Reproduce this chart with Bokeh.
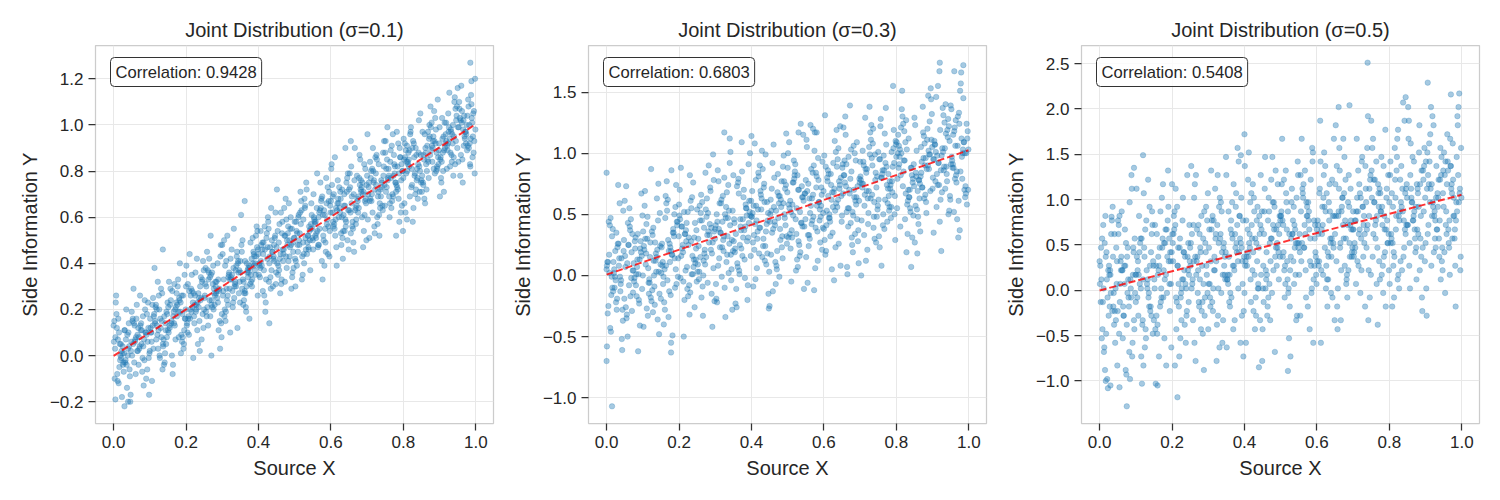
import numpy as np
from bokeh.plotting import figure
from bokeh.layouts import row
from bokeh.models import Range1d, FixedTicker, Label, CustomJSTickFormatter
from bokeh.embed import file_html
from bokeh.resources import INLINE

# Panel labels
sigmas = ["0.1", "0.3", "0.5"]
correlations = ["0.9428", "0.6803", "0.5408"]

# Tick positions
x_ticks = [0.0, 0.2, 0.4, 0.6, 0.8, 1.0]
y_ticks_s01 = [-0.2, 0.0, 0.2, 0.4, 0.6, 0.8, 1.0, 1.2]
y_ticks_s03 = [-1.0, -0.5, 0.0, 0.5, 1.0, 1.5]
y_ticks_s05 = [-1.0, -0.5, 0.0, 0.5, 1.0, 1.5, 2.0, 2.5]

# ---- sigma = 0.1 : source x (thousandths) / side information y (hundredths)
source_x_s01 = [
    17,3,41,29,8,36,22,47,12,0,33,25,44,6,19,38,14,49,27,2,40,10,31,21,46,5,35,16,43,24,9,37,1,28,48,13,32,20,45,7,39,15,26,4,42,11,34,18,30,23,
    67,53,91,79,58,86,72,97,62,50,83,75,94,56,69,88,64,99,77,52,90,60,81,71,96,55,85,66,93,74,59,87,51,78,98,63,82,70,95,57,89,65,76,54,92,61,84,68,80,73,
    117,103,141,129,108,136,122,147,112,100,133,125,144,106,119,138,114,149,127,102,140,110,131,121,146,105,135,116,143,124,109,137,101,128,148,113,132,120,145,107,139,115,126,104,142,111,134,118,130,123,
    167,153,191,179,158,186,172,197,162,150,183,175,194,156,169,188,164,199,177,152,190,160,181,171,196,155,185,166,193,174,159,187,151,178,198,163,182,170,195,157,189,165,176,154,192,161,184,168,180,173,
    217,203,241,229,208,236,222,247,212,200,233,225,244,206,219,238,214,249,227,202,240,210,231,221,246,205,235,216,243,224,209,237,201,228,248,213,232,220,245,207,239,215,226,204,242,211,234,218,230,223,
    267,253,291,279,258,286,272,297,262,250,283,275,294,256,269,288,264,299,277,252,290,260,281,271,296,255,285,266,293,274,259,287,251,278,298,263,282,270,295,257,289,265,276,254,292,261,284,268,280,273,
    317,303,341,329,308,336,322,347,312,300,333,325,344,306,319,338,314,349,327,302,340,310,331,321,346,305,335,316,343,324,309,337,301,328,348,313,332,320,345,307,339,315,326,304,342,311,334,318,330,323,
    367,353,391,379,358,386,372,397,362,350,383,375,394,356,369,388,364,399,377,352,390,360,381,371,396,355,385,366,393,374,359,387,351,378,398,363,382,370,395,357,389,365,376,354,392,361,384,368,380,373,
    417,403,441,429,408,436,422,447,412,400,433,425,444,406,419,438,414,449,427,402,440,410,431,421,446,405,435,416,443,424,409,437,401,428,448,413,432,420,445,407,439,415,426,404,442,411,434,418,430,423,
    467,453,491,479,458,486,472,497,462,450,483,475,494,456,469,488,464,499,477,452,490,460,481,471,496,455,485,466,493,474,459,487,451,478,498,463,482,470,495,457,489,465,476,454,492,461,484,468,480,473,
    517,503,541,529,508,536,522,547,512,500,533,525,544,506,519,538,514,549,527,502,540,510,531,521,546,505,535,516,543,524,509,537,501,528,548,513,532,520,545,507,539,515,526,504,542,511,534,518,530,523,
    567,553,591,579,558,586,572,597,562,550,583,575,594,556,569,588,564,599,577,552,590,560,581,571,596,555,585,566,593,574,559,587,551,578,598,563,582,570,595,557,589,565,576,554,592,561,584,568,580,573,
    617,603,641,629,608,636,622,647,612,600,633,625,644,606,619,638,614,649,627,602,640,610,631,621,646,605,635,616,643,624,609,637,601,628,648,613,632,620,645,607,639,615,626,604,642,611,634,618,630,623,
    667,653,691,679,658,686,672,697,662,650,683,675,694,656,669,688,664,699,677,652,690,660,681,671,696,655,685,666,693,674,659,687,651,678,698,663,682,670,695,657,689,665,676,654,692,661,684,668,680,673,
    717,703,741,729,708,736,722,747,712,700,733,725,744,706,719,738,714,749,727,702,740,710,731,721,746,705,735,716,743,724,709,737,701,728,748,713,732,720,745,707,739,715,726,704,742,711,734,718,730,723,
    767,753,791,779,758,786,772,797,762,750,783,775,794,756,769,788,764,799,777,752,790,760,781,771,796,755,785,766,793,774,759,787,751,778,798,763,782,770,795,757,789,765,776,754,792,761,784,768,780,773,
    817,803,841,829,808,836,822,847,812,800,833,825,844,806,819,838,814,849,827,802,840,810,831,821,846,805,835,816,843,824,809,837,801,828,848,813,832,820,845,807,839,815,826,804,842,811,834,818,830,823,
    867,853,891,879,858,886,872,897,862,850,883,875,894,856,869,888,864,899,877,852,890,860,881,871,896,855,885,866,893,874,859,887,851,878,898,863,882,870,895,857,889,865,876,854,892,861,884,868,880,873,
    917,903,941,929,908,936,922,947,912,900,933,925,944,906,919,938,914,949,927,902,940,910,931,921,946,905,935,916,943,924,909,937,901,928,948,913,932,920,945,907,939,915,926,904,942,911,934,918,930,923,
    967,953,991,979,958,986,972,997,962,950,983,975,994,956,969,988,964,999,977,952,990,960,981,971,996,955,985,966,993,974,959,987,951,978,998,963,982,970,995,957,989,965,976,954,992,961,984,968,980,973,
    985,988,30,40,5,136,362,430,270,780,810,640,655,
]
side_y_s01 = [
    5,-10,10,1,18,-4,2,-17,7,13,-2,4,-6,23,0,9,-12,6,-3,15,3,-8,11,-1,-20,8,20,-5,4,1,12,-14,6,-7,2,16,-3,5,-9,26,0,10,-4,3,14,-11,7,-2,11,-18,
    2,16,9,-7,13,24,4,-1,8,19,-13,11,6,14,-4,10,22,1,5,15,-10,7,17,3,12,29,-2,9,-6,13,6,20,0,11,-17,16,4,8,23,-3,10,2,14,5,18,-8,7,12,-1,26,
    22,10,-3,16,13,5,32,8,18,2,15,26,11,-11,20,7,14,23,0,12,17,3,29,9,19,6,-6,21,14,11,25,4,16,-1,18,38,8,13,5,22,-4,15,20,10,1,17,27,7,12,3,
    14,32,8,19,24,1,21,16,28,11,40,17,5,22,13,26,-4,20,30,10,18,15,25,7,35,12,23,19,3,27,14,9,21,33,16,-8,24,20,11,29,6,17,22,13,26,0,19,31,8,23,
    28,14,34,22,9,25,17,41,20,30,5,26,32,16,23,2,29,37,19,13,24,44,11,27,18,31,21,35,7,22,28,15,39,20,12,26,23,-1,33,17,30,19,36,10,25,16,27,21,42,14,
    17,31,28,22,45,25,36,14,33,20,27,39,3,30,35,23,42,18,29,26,11,37,32,24,48,19,28,34,15,31,21,40,25,27,8,36,30,22,43,17,33,24,20,38,29,13,32,52,26,21,
    34,28,45,21,39,32,10,37,29,48,25,33,41,17,36,30,52,23,35,26,43,19,38,33,27,50,31,22,40,34,15,37,44,28,32,24,55,29,36,20,39,26,46,33,12,41,30,35,23,42,
    30,48,40,35,22,45,38,54,28,41,33,16,43,50,36,39,27,46,31,61,37,24,42,34,47,29,40,19,52,39,32,44,36,49,26,41,30,37,56,33,43,21,38,45,35,27,51,40,32,36,
    56,39,42,32,48,37,51,62,28,44,34,47,41,54,19,45,49,36,58,40,30,46,43,33,52,38,64,26,48,42,39,50,35,55,31,44,47,23,51,41,45,37,60,34,43,49,29,46,40,53,
    46,54,29,50,57,43,52,38,62,47,41,68,36,49,44,55,33,51,59,40,48,27,53,64,45,39,50,58,34,52,42,47,72,38,51,31,56,46,49,37,60,53,43,35,55,44,66,41,48,32,
    57,41,54,65,48,52,35,61,50,58,72,44,55,39,63,47,53,51,68,30,56,60,46,43,66,54,49,71,37,59,45,52,42,64,55,48,75,33,57,53,46,62,40,58,50,61,44,67,51,49,
    48,60,73,52,58,45,64,54,79,50,61,41,67,57,55,66,47,62,33,70,59,53,63,75,43,58,49,60,56,68,51,77,46,61,65,54,39,63,71,52,57,48,69,59,44,64,55,62,50,67,
    63,74,56,48,70,65,60,79,52,67,42,62,71,58,76,54,64,46,68,83,59,55,72,66,50,69,61,39,75,64,57,70,81,53,63,59,51,68,77,56,65,47,71,62,58,86,54,66,60,73,
    63,73,54,87,69,60,78,66,49,72,76,62,67,82,57,70,45,74,64,79,71,58,85,65,68,53,73,90,61,67,56,75,63,77,50,70,72,59,81,66,47,76,69,62,83,55,71,64,74,68,
    80,70,75,57,84,64,72,93,67,78,61,74,88,51,76,69,81,65,85,59,73,77,71,53,82,75,66,90,63,79,68,72,96,60,74,70,83,56,78,67,76,62,87,73,65,80,52,75,69,86,
    64,81,86,75,77,92,69,80,60,88,73,83,76,99,67,79,84,54,82,71,90,78,74,96,65,85,72,77,62,87,81,68,93,75,80,66,97,70,83,76,58,89,79,73,86,69,82,91,71,78,
    89,66,83,92,79,87,73,105,84,77,70,90,82,62,96,81,88,75,93,85,68,91,78,99,80,86,72,82,102,74,84,76,94,64,87,83,79,97,71,89,77,85,58,92,88,80,90,69,86,81,
    85,97,80,91,68,93,100,83,88,76,95,108,81,87,84,103,72,92,89,78,98,66,90,94,86,74,106,91,82,87,96,79,71,101,89,83,93,77,111,85,92,80,99,75,88,90,81,97,84,95,
    96,86,110,82,94,92,89,104,71,99,87,97,107,84,93,78,101,90,114,85,95,80,98,91,102,75,96,92,83,105,88,100,69,94,108,89,97,81,93,103,86,90,99,77,112,95,84,101,88,92,
    91,99,86,111,102,94,97,79,106,116,92,100,88,103,95,109,75,98,104,84,101,117,90,97,93,107,82,102,105,96,87,113,99,91,120,85,100,94,106,78,103,98,89,110,95,101,83,104,108,92,
    127,119,-22,-20,-19,46,67,14,0,52,59,90,93,
]

# ---- sigma = 0.3
source_x_s03 = [
    49,27,2,40,10,31,21,46,5,35,16,43,24,9,37,1,28,48,13,32,20,45,7,39,15,26,4,42,11,34,18,30,23,17,3,41,29,8,36,22,47,12,0,33,25,44,6,19,38,14,
    99,77,52,90,60,81,71,96,55,85,66,93,74,59,87,51,78,98,63,82,70,95,57,89,65,76,54,92,61,84,68,80,73,67,53,91,79,58,86,72,97,62,50,83,75,94,56,69,88,64,
    149,127,102,140,110,131,121,146,105,135,116,143,124,109,137,101,128,148,113,132,120,145,107,139,115,126,104,142,111,134,118,130,123,117,103,141,129,108,136,122,147,112,100,133,125,144,106,119,138,114,
    199,177,152,190,160,181,171,196,155,185,166,193,174,159,187,151,178,198,163,182,170,195,157,189,165,176,154,192,161,184,168,180,173,167,153,191,179,158,186,172,197,162,150,183,175,194,156,169,188,164,
    249,227,202,240,210,231,221,246,205,235,216,243,224,209,237,201,228,248,213,232,220,245,207,239,215,226,204,242,211,234,218,230,223,217,203,241,229,208,236,222,247,212,200,233,225,244,206,219,238,214,
    299,277,252,290,260,281,271,296,255,285,266,293,274,259,287,251,278,298,263,282,270,295,257,289,265,276,254,292,261,284,268,280,273,267,253,291,279,258,286,272,297,262,250,283,275,294,256,269,288,264,
    349,327,302,340,310,331,321,346,305,335,316,343,324,309,337,301,328,348,313,332,320,345,307,339,315,326,304,342,311,334,318,330,323,317,303,341,329,308,336,322,347,312,300,333,325,344,306,319,338,314,
    399,377,352,390,360,381,371,396,355,385,366,393,374,359,387,351,378,398,363,382,370,395,357,389,365,376,354,392,361,384,368,380,373,367,353,391,379,358,386,372,397,362,350,383,375,394,356,369,388,364,
    449,427,402,440,410,431,421,446,405,435,416,443,424,409,437,401,428,448,413,432,420,445,407,439,415,426,404,442,411,434,418,430,423,417,403,441,429,408,436,422,447,412,400,433,425,444,406,419,438,414,
    499,477,452,490,460,481,471,496,455,485,466,493,474,459,487,451,478,498,463,482,470,495,457,489,465,476,454,492,461,484,468,480,473,467,453,491,479,458,486,472,497,462,450,483,475,494,456,469,488,464,
    549,527,502,540,510,531,521,546,505,535,516,543,524,509,537,501,528,548,513,532,520,545,507,539,515,526,504,542,511,534,518,530,523,517,503,541,529,508,536,522,547,512,500,533,525,544,506,519,538,514,
    599,577,552,590,560,581,571,596,555,585,566,593,574,559,587,551,578,598,563,582,570,595,557,589,565,576,554,592,561,584,568,580,573,567,553,591,579,558,586,572,597,562,550,583,575,594,556,569,588,564,
    649,627,602,640,610,631,621,646,605,635,616,643,624,609,637,601,628,648,613,632,620,645,607,639,615,626,604,642,611,634,618,630,623,617,603,641,629,608,636,622,647,612,600,633,625,644,606,619,638,614,
    699,677,652,690,660,681,671,696,655,685,666,693,674,659,687,651,678,698,663,682,670,695,657,689,665,676,654,692,661,684,668,680,673,667,653,691,679,658,686,672,697,662,650,683,675,694,656,669,688,664,
    749,727,702,740,710,731,721,746,705,735,716,743,724,709,737,701,728,748,713,732,720,745,707,739,715,726,704,742,711,734,718,730,723,717,703,741,729,708,736,722,747,712,700,733,725,744,706,719,738,714,
    799,777,752,790,760,781,771,796,755,785,766,793,774,759,787,751,778,798,763,782,770,795,757,789,765,776,754,792,761,784,768,780,773,767,753,791,779,758,786,772,797,762,750,783,775,794,756,769,788,764,
    849,827,802,840,810,831,821,846,805,835,816,843,824,809,837,801,828,848,813,832,820,845,807,839,815,826,804,842,811,834,818,830,823,817,803,841,829,808,836,822,847,812,800,833,825,844,806,819,838,814,
    899,877,852,890,860,881,871,896,855,885,866,893,874,859,887,851,878,898,863,882,870,895,857,889,865,876,854,892,861,884,868,880,873,867,853,891,879,858,886,872,897,862,850,883,875,894,856,869,888,864,
    949,927,902,940,910,931,921,946,905,935,916,943,924,909,937,901,928,948,913,932,920,945,907,939,915,926,904,942,911,934,918,930,923,917,903,941,929,908,936,922,947,912,900,933,925,944,906,919,938,914,
    999,977,952,990,960,981,971,996,955,985,966,993,974,959,987,951,978,998,963,982,970,995,957,989,965,976,954,992,961,984,968,980,973,967,953,991,979,958,986,972,997,962,950,983,975,994,956,969,988,964,
    15,0,1,0,178,178,325,340,400,530,570,580,920,985,960,
]
side_y_s03 = [
    -19,35,11,-4,-43,26,5,53,-25,14,-10,-61,20,41,-1,8,-28,29,-16,74,2,-37,17,-7,32,-22,11,-52,47,8,-13,23,-1,38,-31,14,-19,2,59,-10,20,-46,5,26,-4,-28,44,11,-13,-1,
    49,-2,7,-23,25,-8,34,67,-35,13,-17,22,4,43,-62,16,28,-11,55,1,-29,19,10,-20,37,-5,73,-41,25,7,-2,31,-14,46,-26,13,22,-50,34,4,16,-8,61,-17,10,28,-32,19,1,40,
    9,33,-42,21,42,0,27,-15,57,12,-6,75,-21,18,3,36,-30,24,48,-9,15,-48,30,63,6,-12,21,45,-27,27,-3,12,87,-15,24,-36,39,9,18,-18,51,30,0,-24,36,3,69,-6,15,-33,
    32,-16,23,56,5,17,-34,44,11,35,77,-7,26,-22,50,2,20,14,65,-49,29,41,-1,-10,59,23,8,74,-28,38,-4,17,-13,53,26,5,86,-40,32,20,-1,47,-19,35,11,44,-7,62,14,8,
    -5,31,70,7,25,-14,43,13,88,1,34,-26,52,22,16,49,-8,37,-50,61,28,10,40,76,-20,25,-2,31,19,55,4,82,-11,34,46,13,-32,40,64,7,22,-5,58,28,-17,43,16,37,1,52,
    30,63,9,-15,51,36,21,78,-3,42,-33,27,54,15,69,3,33,-21,45,90,18,6,57,39,-9,48,24,-42,66,33,12,51,84,0,30,18,-6,45,72,9,36,-18,54,27,15,99,3,39,21,60,
    20,50,-7,92,38,11,65,29,-22,47,59,17,32,77,2,41,-34,53,23,68,44,5,86,26,35,-10,50,101,14,32,-1,56,20,62,-19,41,47,8,74,29,-28,59,38,17,80,-4,44,23,53,35,
    61,31,46,-8,73,13,37,100,22,55,4,43,85,-26,49,28,64,16,76,-2,40,52,34,-20,67,46,19,91,10,58,25,37,109,1,43,31,70,-11,55,22,49,7,82,40,16,61,-23,46,28,79,
    3,54,69,36,42,87,18,51,-9,75,30,60,39,108,12,48,63,-27,57,24,81,45,33,99,6,66,27,42,-3,72,54,15,90,36,51,9,102,21,60,39,-15,78,48,30,69,18,57,84,24,45,
    68,-1,50,77,38,62,20,116,53,32,11,71,47,-13,89,44,65,26,80,56,5,74,35,98,41,59,17,47,107,23,53,29,83,-7,62,50,38,92,14,68,32,56,-25,77,65,41,71,8,59,44,
    46,82,31,64,-5,70,91,40,55,19,76,115,34,52,43,100,7,67,58,25,85,-11,61,73,49,13,109,64,37,52,79,28,4,94,58,40,70,22,124,46,67,31,88,16,55,61,34,82,43,76,
    69,39,111,27,63,57,48,93,-6,78,42,72,102,33,60,15,84,51,123,36,66,21,75,54,87,6,69,57,30,96,45,81,-12,63,105,48,72,24,60,90,39,51,78,12,117,66,33,84,45,57,
    44,68,29,104,77,53,62,8,89,119,47,71,35,80,56,98,-4,65,83,23,74,122,41,62,50,92,17,77,86,59,32,110,68,44,131,26,71,53,89,5,80,65,38,101,56,74,20,83,95,47,
    76,31,91,64,115,49,67,10,82,100,55,73,43,130,61,88,25,79,52,106,70,37,94,58,1,85,121,46,73,64,97,19,79,40,67,109,52,76,34,139,61,91,49,70,103,28,82,55,94,7,
    57,99,78,30,90,123,63,48,75,108,12,84,69,93,39,81,117,54,66,96,21,72,102,60,87,138,45,78,33,90,69,111,51,84,0,99,63,75,120,42,81,57,93,66,105,27,72,87,48,129,
    107,71,32,89,80,56,137,65,95,47,86,119,74,8,101,62,83,110,41,77,92,50,128,68,98,59,23,104,83,74,116,53,89,38,95,155,65,80,56,107,29,86,101,71,44,92,122,62,77,50,
    73,127,55,88,103,34,94,79,115,64,151,82,46,97,70,109,19,91,121,61,85,76,106,52,136,67,100,88,40,112,73,58,94,130,79,7,103,91,64,118,49,82,97,70,109,31,88,124,55,100,
    105,63,123,87,48,96,72,144,81,111,36,99,117,69,90,27,108,132,78,60,93,153,54,102,75,114,84,126,42,87,105,66,138,81,57,99,90,18,120,72,111,78,129,51,96,69,102,84,147,63,
    62,104,95,77,146,86,119,53,110,71,92,128,20,101,116,80,137,65,98,89,44,122,107,83,155,68,95,113,56,104,74,131,86,92,35,119,101,77,140,62,110,83,71,125,98,50,107,167,89,74,
    103,85,136,64,118,97,31,112,88,145,76,100,124,52,109,91,157,70,106,79,130,58,115,100,82,151,94,67,121,103,46,112,133,85,97,73,166,88,109,61,118,79,139,100,37,124,91,106,70,127,
    -107,-70,-58,84,-55,-63,117,112,114,117,120,117,174,172,167,
]

# ---- sigma = 0.5
source_x_s05 = [
    28,48,13,32,20,45,7,39,15,26,4,42,11,34,18,30,23,17,3,41,29,8,36,22,47,12,0,33,25,44,6,19,38,14,49,27,2,40,10,31,21,46,5,35,16,43,24,9,37,1,
    78,98,63,82,70,95,57,89,65,76,54,92,61,84,68,80,73,67,53,91,79,58,86,72,97,62,50,83,75,94,56,69,88,64,99,77,52,90,60,81,71,96,55,85,66,93,74,59,87,51,
    128,148,113,132,120,145,107,139,115,126,104,142,111,134,118,130,123,117,103,141,129,108,136,122,147,112,100,133,125,144,106,119,138,114,149,127,102,140,110,131,121,146,105,135,116,143,124,109,137,101,
    178,198,163,182,170,195,157,189,165,176,154,192,161,184,168,180,173,167,153,191,179,158,186,172,197,162,150,183,175,194,156,169,188,164,199,177,152,190,160,181,171,196,155,185,166,193,174,159,187,151,
    228,248,213,232,220,245,207,239,215,226,204,242,211,234,218,230,223,217,203,241,229,208,236,222,247,212,200,233,225,244,206,219,238,214,249,227,202,240,210,231,221,246,205,235,216,243,224,209,237,201,
    278,298,263,282,270,295,257,289,265,276,254,292,261,284,268,280,273,267,253,291,279,258,286,272,297,262,250,283,275,294,256,269,288,264,299,277,252,290,260,281,271,296,255,285,266,293,274,259,287,251,
    328,348,313,332,320,345,307,339,315,326,304,342,311,334,318,330,323,317,303,341,329,308,336,322,347,312,300,333,325,344,306,319,338,314,349,327,302,340,310,331,321,346,305,335,316,343,324,309,337,301,
    378,398,363,382,370,395,357,389,365,376,354,392,361,384,368,380,373,367,353,391,379,358,386,372,397,362,350,383,375,394,356,369,388,364,399,377,352,390,360,381,371,396,355,385,366,393,374,359,387,351,
    428,448,413,432,420,445,407,439,415,426,404,442,411,434,418,430,423,417,403,441,429,408,436,422,447,412,400,433,425,444,406,419,438,414,449,427,402,440,410,431,421,446,405,435,416,443,424,409,437,401,
    478,498,463,482,470,495,457,489,465,476,454,492,461,484,468,480,473,467,453,491,479,458,486,472,497,462,450,483,475,494,456,469,488,464,499,477,452,490,460,481,471,496,455,485,466,493,474,459,487,451,
    528,548,513,532,520,545,507,539,515,526,504,542,511,534,518,530,523,517,503,541,529,508,536,522,547,512,500,533,525,544,506,519,538,514,549,527,502,540,510,531,521,546,505,535,516,543,524,509,537,501,
    578,598,563,582,570,595,557,589,565,576,554,592,561,584,568,580,573,567,553,591,579,558,586,572,597,562,550,583,575,594,556,569,588,564,599,577,552,590,560,581,571,596,555,585,566,593,574,559,587,551,
    628,648,613,632,620,645,607,639,615,626,604,642,611,634,618,630,623,617,603,641,629,608,636,622,647,612,600,633,625,644,606,619,638,614,649,627,602,640,610,631,621,646,605,635,616,643,624,609,637,601,
    678,698,663,682,670,695,657,689,665,676,654,692,661,684,668,680,673,667,653,691,679,658,686,672,697,662,650,683,675,694,656,669,688,664,699,677,652,690,660,681,671,696,655,685,666,693,674,659,687,651,
    728,748,713,732,720,745,707,739,715,726,704,742,711,734,718,730,723,717,703,741,729,708,736,722,747,712,700,733,725,744,706,719,738,714,749,727,702,740,710,731,721,746,705,735,716,743,724,709,737,701,
    778,798,763,782,770,795,757,789,765,776,754,792,761,784,768,780,773,767,753,791,779,758,786,772,797,762,750,783,775,794,756,769,788,764,799,777,752,790,760,781,771,796,755,785,766,793,774,759,787,751,
    828,848,813,832,820,845,807,839,815,826,804,842,811,834,818,830,823,817,803,841,829,808,836,822,847,812,800,833,825,844,806,819,838,814,849,827,802,840,810,831,821,846,805,835,816,843,824,809,837,801,
    878,898,863,882,870,895,857,889,865,876,854,892,861,884,868,880,873,867,853,891,879,858,886,872,897,862,850,883,875,894,856,869,888,864,899,877,852,890,860,881,871,896,855,885,866,893,874,859,887,851,
    928,948,913,932,920,945,907,939,915,926,904,942,911,934,918,930,923,917,903,941,929,908,936,922,947,912,900,933,925,944,906,919,938,914,949,927,902,940,910,931,921,946,905,935,916,943,924,909,937,901,
    978,998,963,982,970,995,957,989,965,976,954,992,961,984,968,980,973,967,953,991,979,958,986,972,997,962,950,983,975,994,956,969,988,964,999,977,952,990,960,981,971,996,955,985,966,993,974,959,987,951,
    75,215,17,30,55,160,440,520,740,906,970,845,660,690,120,95,400,390,
]
side_y_s05 = [
    -18,32,-63,62,12,-33,57,-3,-88,27,47,-23,2,77,-48,17,-108,37,-13,62,22,-43,92,-8,7,-68,32,81,-28,2,-53,42,-18,52,-83,17,27,-38,72,-3,-98,47,12,-23,82,-58,22,-13,37,7,
    47,-3,22,-68,67,-33,7,112,-18,37,-48,17,87,-98,27,-8,52,-28,72,-58,12,32,2,-88,57,22,-23,97,-38,42,-13,7,127,-53,17,-3,62,-73,37,-18,27,-43,82,12,-28,47,-93,22,-8,77,
    -53,32,57,2,12,87,-28,27,-73,67,-8,42,7,122,-38,22,47,-103,37,-18,77,17,-3,107,-48,52,-13,12,-63,62,32,-33,92,2,27,-43,112,-23,42,7,-83,72,22,-8,57,-28,37,82,-18,17,
    52,-63,22,67,2,42,-28,132,27,-8,-43,57,17,-83,87,12,47,-18,72,32,-53,62,-3,102,7,37,-33,17,117,-23,27,-13,77,-73,42,22,2,92,-38,52,-8,32,-103,67,47,7,57,-48,37,12,
    12,72,-13,42,-73,52,87,2,27,-33,62,127,-8,22,7,102,-53,47,32,-23,77,-83,37,57,17,-43,117,42,-3,22,67,-18,-58,92,32,2,52,-28,112,12,47,-13,82,-38,27,37,-8,72,7,62,
    47,-3,117,-23,37,27,12,87,-78,62,2,52,102,-13,32,-43,72,17,137,-8,42,-33,57,22,77,-58,47,27,-18,92,7,67,-88,37,107,12,52,-28,32,82,-3,17,62,-48,127,42,-13,72,7,27,
    2,42,-23,102,57,17,32,-58,77,127,7,47,-13,62,22,92,-78,37,67,-33,52,132,-3,32,12,82,-43,57,72,27,-18,112,42,2,147,-28,47,17,77,-63,62,37,-8,97,22,52,-38,67,87,7,
    52,-23,77,32,117,7,37,-58,62,92,17,47,-3,142,27,72,-33,57,12,102,42,-13,82,22,-73,67,127,2,47,32,87,-43,57,-8,37,107,12,52,-18,157,27,77,7,42,97,-28,62,17,82,-63,
    17,87,52,-28,72,127,27,2,47,102,-58,62,37,77,-13,57,117,12,32,82,-43,42,92,22,67,152,-3,52,-23,72,37,107,7,62,-78,87,27,47,122,-8,57,17,77,32,97,-33,42,67,2,137,
    97,37,-28,67,52,12,147,27,77,-3,62,117,42,-68,87,22,57,102,-13,47,72,2,132,32,82,17,-43,92,57,42,112,7,67,-18,77,147,27,52,12,97,-33,62,87,37,-8,72,122,22,47,2,
    37,127,7,62,87,-28,72,47,107,22,167,52,-8,77,32,97,-53,67,117,17,57,42,92,2,142,27,82,62,-18,102,37,12,72,132,47,-73,87,67,22,112,-3,52,77,32,97,-33,62,122,7,82,
    87,17,117,57,-8,72,32,152,47,97,-28,77,107,27,62,-43,92,132,42,12,67,167,2,82,37,102,52,122,-18,57,87,22,142,47,7,77,62,-58,112,32,97,42,127,-3,72,27,82,52,157,17,
    12,82,67,37,152,52,107,-3,92,27,62,122,-58,77,102,42,137,17,72,57,-18,112,87,47,167,22,67,97,2,82,32,127,52,62,-33,107,77,37,142,12,92,47,27,117,72,-8,87,187,57,32,
    77,47,132,12,102,67,-43,92,52,147,32,72,112,-8,87,57,167,22,82,37,122,2,97,72,42,157,62,17,107,77,-18,92,127,47,67,27,182,52,87,7,102,37,137,72,-33,112,57,82,22,117,
    37,127,87,62,-3,112,77,157,27,92,52,-33,102,137,67,82,22,117,42,192,72,7,97,57,122,32,87,-18,147,82,47,107,67,132,17,92,37,72,167,52,102,-8,77,112,62,22,142,87,47,67,
    147,62,77,27,107,52,122,177,7,87,37,102,72,137,-38,92,112,47,157,67,17,97,82,32,127,57,187,-3,107,77,62,117,42,142,22,87,102,-18,122,72,92,52,167,37,82,112,12,97,67,132,
    77,117,-8,97,132,62,107,37,157,82,52,187,27,92,67,122,12,102,142,47,87,-18,112,167,72,42,97,137,17,107,57,82,207,37,102,2,127,77,92,32,147,112,62,22,122,67,177,52,87,7,
    112,32,97,152,67,87,2,132,77,117,187,47,102,22,142,62,92,82,167,-23,107,127,57,42,157,97,72,182,12,122,52,87,37,147,102,67,202,-8,112,92,57,137,27,117,77,132,47,162,82,72,
    47,107,172,67,97,32,127,77,202,57,112,12,142,92,82,137,42,117,-28,157,102,72,122,182,22,97,52,107,87,147,62,192,37,112,132,77,2,122,162,67,92,47,152,102,27,127,82,117,57,142,
    102,157,67,27,137,112,87,182,47,122,-3,97,142,77,167,57,107,17,127,202,82,62,147,117,37,132,92,-18,162,107,72,137,192,52,102,82,42,127,172,67,112,22,142,97,77,217,57,117,87,152,
    -128,-118,-100,-105,-107,-105,-85,-89,251,229,216,213,202,204,149,135,172,149,
]

FONT = "Liberation Sans"
TEXT = "#262626"
FRAME_W, FRAME_H = 398, 378

tick_format = CustomJSTickFormatter(
    code="return (tick < 0 ? '\u2212' : '') + Math.abs(tick).toFixed(1);"
)


def make_panel(sigma, corr, xs, ys, y_ticks, border_left, border_right):
    assert len(xs) == len(ys)
    x = np.asarray(xs, dtype=float) / 1000.0
    y = np.asarray(ys, dtype=float) / 100.0

    # 5% margins around the data
    xm = 0.05 * (x.max() - x.min())
    ym = 0.05 * (y.max() - y.min())
    x0, x1 = x.min() - xm, x.max() + xm
    y0, y1 = y.min() - ym, y.max() + ym

    p = figure(
        frame_width=FRAME_W, frame_height=FRAME_H,
        min_border_left=border_left, min_border_right=border_right,
        min_border_top=45, min_border_bottom=77,
        x_range=Range1d(x0, x1), y_range=Range1d(y0, y1),
        title=f"Joint Distribution (\u03c3={sigma})",
        output_backend="svg", toolbar_location=None,
        background_fill_color="white", border_fill_color="white",
    )

    p.title.align = "center"
    p.title.text_font = FONT
    p.title.text_font_size = "20px"
    p.title.text_font_style = "normal"
    p.title.text_color = TEXT

    p.outline_line_color = "#cccccc"
    p.outline_line_width = 1.25

    p.xaxis.ticker = FixedTicker(ticks=x_ticks)
    p.yaxis.ticker = FixedTicker(ticks=y_ticks)
    p.xaxis.axis_label = "Source X"
    p.yaxis.axis_label = "Side Information Y"

    for ax in (p.xaxis[0], p.yaxis[0]):
        ax.formatter = tick_format
        ax.axis_line_color = None
        ax.major_tick_line_color = "#333333"
        ax.major_tick_line_width = 1.25
        ax.major_tick_out = 7
        ax.major_tick_in = 0
        ax.minor_tick_line_color = None
        ax.major_label_text_font = FONT
        ax.major_label_text_font_size = "17px"
        ax.major_label_text_color = TEXT
        ax.major_label_standoff = 5
        ax.axis_label_text_font = FONT
        ax.axis_label_text_font_size = "20px"
        ax.axis_label_text_font_style = "normal"
        ax.axis_label_text_color = TEXT
        ax.axis_label_standoff = 6

    p.grid.grid_line_color = "#e8e8e8"
    p.grid.grid_line_width = 1

    p.scatter(x, y, size=5.5, marker="circle",
              fill_color="#1f77b4", fill_alpha=0.4,
              line_color="#1f77b4", line_alpha=0.4, line_width=0.6)

    # least-squares trend line over the sampled x span
    slope, intercept = np.polyfit(x, y, 1)
    lx = np.array([x.min(), x.max()])
    p.line(lx, slope * lx + intercept, line_color="red", line_alpha=0.8,
           line_width=2, line_dash="7 3")

    p.add_layout(Label(
        x=x0 + 15 / FRAME_W * (x1 - x0), y=y1 - 12 / FRAME_H * (y1 - y0),
        x_units="data", y_units="data", anchor="top_left",
        text=f"Correlation: {corr}",
        text_font=FONT, text_font_size="16.6px", text_color=TEXT,
        padding=5, border_radius=4,
        background_fill_color="white", background_fill_alpha=0.8,
        border_line_color="#333333", border_line_width=1,
    ))
    return p


p1 = make_panel(sigmas[0], correlations[0], source_x_s01, side_y_s01, y_ticks_s01, 95, 3)
p2 = make_panel(sigmas[1], correlations[1], source_x_s03, side_y_s03, y_ticks_s03, 92, 3)
p3 = make_panel(sigmas[2], correlations[2], source_x_s05, side_y_s05, y_ticks_s05, 92, 21)

layout = row(p1, p2, p3)
open("out.html", "w").write(file_html(layout, INLINE))
